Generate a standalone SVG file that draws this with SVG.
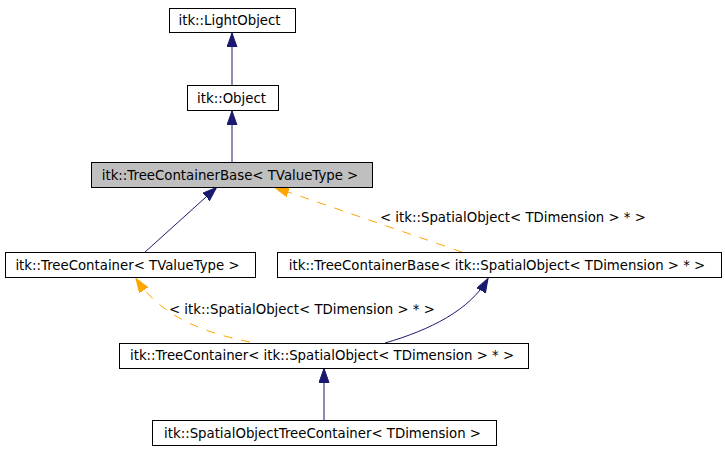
<svg xmlns="http://www.w3.org/2000/svg" width="725" height="451" viewBox="0 0 725 451">
<style>
.node rect{fill:#ffffff;stroke:#000000;stroke-width:1}
.node.cur rect{fill:#bfbfbf}
text{font-family:"DejaVu Sans","Liberation Sans",sans-serif;font-size:13.3px;fill:#000000;text-anchor:middle}
.edge{fill:none;stroke-width:1}
.inh{stroke:#191970;marker-end:url(#ah-blue)}
.tpl{stroke:#ffa500;stroke-dasharray:9,9;marker-end:url(#ah-orange)}
.lbl{text-anchor:start}
</style>
<defs>
<marker id="ah-blue" markerUnits="userSpaceOnUse" markerWidth="16" markerHeight="12" refX="14" refY="5" orient="auto"><path d="M0,0 L14,5 L0,10 z" fill="#191970" stroke="#191970"/></marker>
<marker id="ah-orange" markerUnits="userSpaceOnUse" markerWidth="16" markerHeight="12" refX="14" refY="5" orient="auto"><path d="M0,0 L14,5 L0,10 z" fill="#ffa500" stroke="#ffa500"/></marker>
</defs>
<g id="connectors">
<path class="edge inh" d="M232,85 L232,33"/>
<path class="edge inh" d="M232,162 L232,111"/>
<path class="edge inh" d="M144,253 L216.5,187.5"/>
<path class="edge tpl" d="M462,252 L275,187.5"/>
<text class="lbl" x="380" y="222">&lt; itk::SpatialObject&lt; TDimension &gt; * &gt;</text>
<path class="edge tpl" d="M250,342 C200,332 160,315 136,278.5"/>
<text class="lbl" x="169" y="314">&lt; itk::SpatialObject&lt; TDimension &gt; * &gt;</text>
<path class="edge inh" d="M385,343 C430,330 470,310 488,278.5"/>
<path class="edge inh" d="M324,420 L324,368.5"/>
</g>
<g id="n_lightobject" class="node"><rect x="169.5" y="8.5" width="126" height="24"/><text x="229.5" y="24.5">itk::LightObject</text></g>
<g id="n_object" class="node"><rect x="187.5" y="85.5" width="91" height="25"/><text x="231.5" y="102.5">itk::Object</text></g>
<g id="n_tcb_tvt" class="node cur"><rect x="91.5" y="162.5" width="281" height="25"/><text x="230" y="179.5">itk::TreeContainerBase&lt; TValueType &gt;</text></g>
<g id="n_tc_tvt" class="node"><rect x="5.5" y="252.5" width="250" height="25"/><text x="127.5" y="269.5">itk::TreeContainer&lt; TValueType &gt;</text></g>
<g id="n_tcb_so" class="node"><rect x="277.5" y="252.5" width="444" height="25"/><text x="497" y="269.5">itk::TreeContainerBase&lt; itk::SpatialObject&lt; TDimension &gt; * &gt;</text></g>
<g id="n_tc_so" class="node"><rect x="119.5" y="343.5" width="409" height="25"/><text x="322" y="360">itk::TreeContainer&lt; itk::SpatialObject&lt; TDimension &gt; * &gt;</text></g>
<g id="n_sotc" class="node"><rect x="152.5" y="420.5" width="344" height="25"/><text x="322.5" y="437.5">itk::SpatialObjectTreeContainer&lt; TDimension &gt;</text></g>
</svg>
